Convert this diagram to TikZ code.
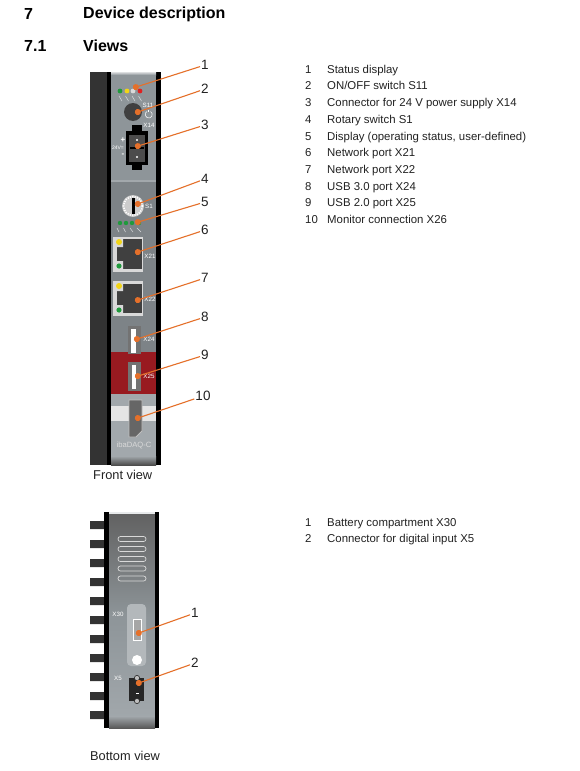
\documentclass[tikz,border=0pt]{standalone}
\usepackage{fontspec}
\setmainfont{Liberation Sans}
\usetikzlibrary{arrows.meta, positioning}
\definecolor{leaderorange}{HTML}{E5702A}
\definecolor{inktext}{HTML}{222222}
\definecolor{panelgray}{HTML}{8E9599}
\definecolor{paneldark}{HTML}{7D8387}
\definecolor{panellight}{HTML}{A2A8AC}
\definecolor{railgray}{HTML}{333333}
\definecolor{panelred}{HTML}{981A20}
\definecolor{ledgreen}{HTML}{1F9A3C}
\definecolor{ledyellow}{HTML}{F2D516}
\definecolor{ledred}{HTML}{E02020}

\begin{document}
\begin{tikzpicture}[x=1pt, y=-1pt,
 heading/.style={anchor=west, inner sep=0pt, font=\fontsize{16}{18}\bfseries\selectfont, text=black},
 item/.style={anchor=north west, inner sep=0pt, text height=8.2pt, text depth=2.4pt, minimum height=16.3pt, font=\fontsize{11.4}{13}\selectfont, text=inktext},
 itemnum/.style={item, anchor=west},
 caption/.style={anchor=west, inner sep=0pt, font=\fontsize{12.8}{15}\selectfont, text=inktext},
 calloutnum/.style={inner sep=1pt, font=\fontsize{13.5}{15}\selectfont, text=inktext},
 leader/.style={{Circle[length=6pt]}-, draw=leaderorange, line width=1.1pt},
 devtext/.style={inner sep=0pt, font=\fontsize{6.2}{7}\selectfont, text=white},
 ledmark/.style={white, line width=.5pt, opacity=.7}]

\useasboundingbox (0,0) rectangle (580,771);
\fill[white] (0,0) rectangle (580,771);

\node[heading] (secseven) at (24,14) {7};
\node[heading] (secsevenname) at (83,14) {Device description};
\node[heading] (secviews) at (24,46) {7.1};
\node[heading] (secviewsname) at (83,46) {Views};

% front view housing
\fill[railgray] (90,72) rectangle (107,465);
\fill[black] (107,72) rectangle (111,465);
\fill[black] (156,72) rectangle (161,465);
\fill[panelgray] (111,72) rectangle (156,180);
\fill[top color=white!70!panelgray, bottom color=panelgray] (111,72) rectangle (156,75);
\fill[panellight] (111,180) rectangle (156,182);
\fill[paneldark] (111,182) rectangle (156,352);
\fill[panelred] (111,352) rectangle (156,394);
\fill[panellight] (111,394) rectangle (156,465);
\fill[top color=panellight, bottom color=black!70] (111,456) rectangle (156,465);
\fill[white!90!black] (111,406) rectangle (156,421);

% status leds
\fill[ledgreen] (120,91) circle (2.4);
\fill[ledyellow] (127,91) circle (2.4);
\fill[white!85!black] (133,91) circle (2.4);
\fill[ledred] (140,91) circle (2.4);
\draw[ledmark] (119,96)--(122,101) (125.5,96)--(128.5,101) (132,96)--(135,101) (138.5,96)--(141.5,101);

% switch S11
\fill[black!75] (133,112) circle (9);
\node[devtext] (txts) at (148,105) {S11};
\draw[white, line width=.5pt] (150.5,111.5) arc (-60:240:3.5);
\draw[white, line width=.5pt] (148.7,112) -- (148.7,109.5);

% connector X14
\node[devtext] (txtpower) at (149,125) {X14};
\fill[black] (132,125) rectangle (142,170);
\fill[black] (126,131) rectangle (148,165);
\fill[black!70] (129,135) rectangle (145,162);
\fill[white] (137,140) circle (1.2);
\fill[white] (137,157) circle (1.2);
\fill[black] (130,146.5) rectangle (144,148.5);
\node[devtext, font=\fontsize{8}{9}\bfseries\selectfont] (txtplus) at (123,140) {+};
\node[devtext, font=\fontsize{8}{9}\bfseries\selectfont] (txtminus) at (123,155) {-};
\node[devtext, font=\fontsize{5}{6}\selectfont] (txtvolt) at (118,147.5) {24V=};

% rotary switch
\fill[white!80!black] (133,206) circle (11);
\draw[white, line width=1.6pt, dash pattern=on 1.2pt off 1.2pt] (133,206) circle (9.4);
\fill[black] (131.5,198) rectangle (134.5,214);
\node[devtext] (txtrotary) at (149,206) {S1};

% display leds
\fill[ledgreen] (120,223) circle (2.2);
\fill[ledgreen] (126,223) circle (2.2);
\fill[ledgreen] (132,223) circle (2.2);
\fill[ledgreen] (139,223) circle (2.2);
\draw[ledmark] (117,228)--(119,232) (123.5,228)--(125.5,232) (130,228)--(133,232) (137,228)--(141,232);

% network ports
\fill[white!85!black] (113,237) rectangle (143,272);
\fill[black!75] (117,239) rectangle (142,269);
\fill[white!85!black] (114,238) rectangle (123,247) (114,261) rectangle (123,271);
\fill[ledyellow] (119,242) circle (3);
\fill[ledgreen] (119,266) circle (2.6);
\node[devtext] (txtportone) at (150,256) {X21};
\fill[white!85!black] (113,281) rectangle (143,316);
\fill[black!75] (117,284) rectangle (142,313);
\fill[white!85!black] (114,282) rectangle (123,291) (114,305) rectangle (123,315);
\fill[ledyellow] (119,286) circle (3);
\fill[ledgreen] (119,310) circle (2.6);
\node[devtext] (txtporttwo) at (150,299) {X22};

% usb ports
\fill[black!55] (128,326) rectangle (141,354);
\fill[white] (131,329) rectangle (136,353);
\node[devtext] (txtusbone) at (149,339) {X24};
\fill[black!55] (128,362) rectangle (141,391);
\fill[white] (131.5,365) rectangle (136,389);
\node[devtext] (txtusbtwo) at (149,376) {X25};

% monitor connection
\filldraw[draw=white!75!black, fill=black!60, line width=.8pt] (129,400) -- (142,400) -- (142,431) -- (136,437) -- (129,437) -- cycle;
\node[devtext, font=\fontsize{7.6}{9}\selectfont, text=white!85!black] (txtname) at (134,445) {ibaDAQ-C};

\node[caption] (capfront) at (93,475) {Front view};

% front view callouts
\node[calloutnum] (numa) at (205,65) {1};
\node[calloutnum] (numb) at (205,89) {2};
\node[calloutnum] (numc) at (205,125) {3};
\node[calloutnum] (numd) at (205,179) {4};
\node[calloutnum] (nume) at (205,202) {5};
\node[calloutnum] (numf) at (205,230) {6};
\node[calloutnum] (numg) at (205,278) {7};
\node[calloutnum] (numh) at (205,317) {8};
\node[calloutnum] (numi) at (205,355) {9};
\node[calloutnum] (numj) at (203,396) {10};
\coordinate (statusdisplay) at (133,88);
\coordinate (onoffswitch) at (135,113);
\coordinate (powersupply) at (135,147);
\coordinate (rotaryswitch) at (135,205);
\coordinate (userdisplay) at (135,223);
\coordinate (netone) at (135,253);
\coordinate (nettwo) at (135,301);
\coordinate (usbthree) at (134,340);
\coordinate (usbtwo) at (135,377);
\coordinate (monitor) at (135,419);
\draw[leader] (statusdisplay)--(numa);\draw[leader] (onoffswitch)--(numb);\draw[leader] (powersupply)--(numc);
\draw[leader] (rotaryswitch)--(numd);\draw[leader] (userdisplay)--(nume);\draw[leader] (netone)--(numf);
\draw[leader] (nettwo)--(numg);\draw[leader] (usbthree)--(numh);\draw[leader] (usbtwo)--(numi);\draw[leader] (monitor)--(numj);

% front view list
\node[item] (desca) at (327,62) {Status display};
\node[item, below=0pt of desca.south west, anchor=north west] (descb) {ON/OFF switch S11};
\node[item, below=0pt of descb.south west, anchor=north west] (descc) {Connector for 24 V power supply X14};
\node[item, below=0pt of descc.south west, anchor=north west] (descd) {Rotary switch S1};
\node[item, below=0pt of descd.south west, anchor=north west] (desce) {Display (operating status, user-defined)};
\node[item, below=0pt of desce.south west, anchor=north west] (descf) {Network port X21};
\node[item, below=0pt of descf.south west, anchor=north west] (descg) {Network port X22};
\node[item, below=0pt of descg.south west, anchor=north west] (desch) {USB 3.0 port X24};
\node[item, below=0pt of desch.south west, anchor=north west] (desci) {USB 2.0 port X25};
\node[item, below=0pt of desci.south west, anchor=north west] (descj) {Monitor connection X26};
\node[itemnum] (lista) at (desca.west -| 305,0) {1};
\node[itemnum] (listb) at (descb.west -| 305,0) {2};
\node[itemnum] (listc) at (descc.west -| 305,0) {3};
\node[itemnum] (listd) at (descd.west -| 305,0) {4};
\node[itemnum] (liste) at (desce.west -| 305,0) {5};
\node[itemnum] (listf) at (descf.west -| 305,0) {6};
\node[itemnum] (listg) at (descg.west -| 305,0) {7};
\node[itemnum] (listh) at (desch.west -| 305,0) {8};
\node[itemnum] (listi) at (desci.west -| 305,0) {9};
\node[itemnum] (listj) at (descj.west -| 305,0) {10};

% bottom view housing
\fill[railgray] (90,521) rectangle (104,529) (90,540) rectangle (104,548) (90,559) rectangle (104,567)
 (90,578) rectangle (104,586) (90,597) rectangle (104,605) (90,616) rectangle (104,624)
 (90,635) rectangle (104,643) (90,654) rectangle (104,662) (90,673) rectangle (104,681)
 (90,692) rectangle (104,700) (90,711) rectangle (104,719);
\fill[top color=black!62, bottom color=panellight, middle color=panelgray] (109,512) rectangle (155,722);
\fill[white!80!panelgray] (109,512) rectangle (155,514);
\fill[top color=panellight, bottom color=black!65] (109,716) rectangle (155,728);
\fill[black] (104,512) rectangle (109,728);
\fill[black] (155,512) rectangle (159,728);

% vent slots
\draw[white!85!black, line width=.7pt, rounded corners=2.4pt] (118,536.5) rectangle (146,541.5);
\draw[white!85!black, line width=.7pt, rounded corners=2.4pt] (118,546.5) rectangle (146,551.5);
\draw[white!85!black, line width=.7pt, rounded corners=2.4pt] (118,556.5) rectangle (146,561.5);
\draw[white!85!black, line width=.7pt, rounded corners=2.4pt] (118,566) rectangle (146,571);
\draw[white!85!black, line width=.7pt, rounded corners=2.4pt] (118,576) rectangle (146,581);

% battery compartment
\fill[white!18!panellight, rounded corners=4pt] (127,604) rectangle (146,666);
\draw[white, line width=.8pt, fill=black!35] (133.5,619) rectangle (141,640);
\fill[white] (137,660) circle (5);
\node[devtext] (txtbattery) at (118,614) {X30};

% digital input
\node[devtext] (txtinput) at (118,678) {X5};
\fill[black!85] (129,678) rectangle (144,701);
\filldraw[draw=black!85, fill=white!75!black, line width=.6pt] (137,678) circle (2.6);
\filldraw[draw=black!85, fill=white!75!black, line width=.6pt] (137,701) circle (2.6);
\fill[white] (135.5,692.5) rectangle (138.5,694);

\node[caption] (capbottom) at (90,756) {Bottom view};

% bottom view callouts
\node[calloutnum] (numk) at (195,613) {1};
\node[calloutnum] (numl) at (195,663) {2};
\coordinate (battery) at (136,634);
\coordinate (diginput) at (136,684);
\draw[leader] (battery)--(numk);\draw[leader] (diginput)--(numl);

% bottom view list
\node[item] (desck) at (327,515) {Battery compartment X30};
\node[item, below=0pt of desck.south west, anchor=north west] (descl) {Connector for digital input X5};
\node[itemnum] (listk) at (desck.west -| 305,0) {1};
\node[itemnum] (listl) at (descl.west -| 305,0) {2};

\end{tikzpicture}
\end{document}
